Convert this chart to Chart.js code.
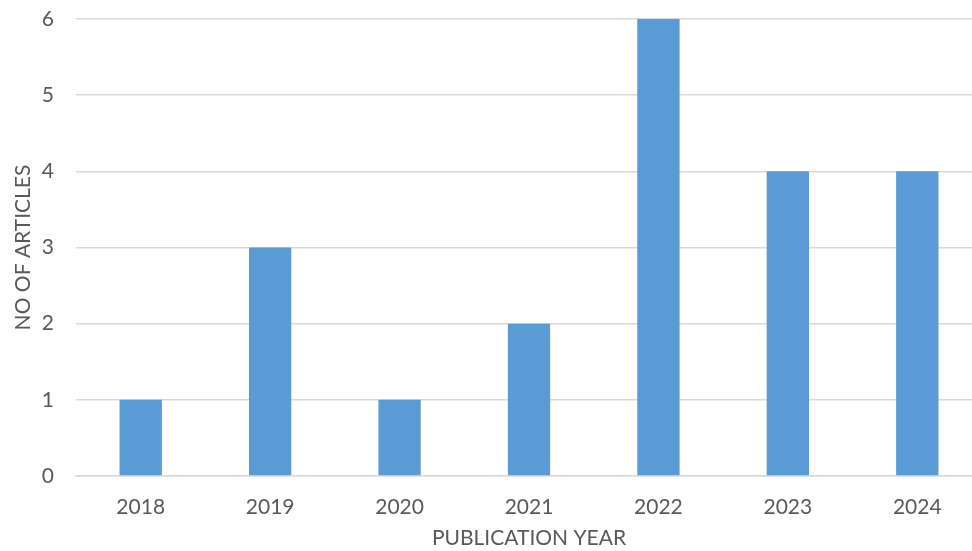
<!DOCTYPE html>
<html>
<head>
<meta charset="utf-8">
<script src="https://cdn.jsdelivr.net/npm/chart.js@4"></script>
<style>
  html, body { margin: 0; padding: 0; background: #fff; overflow: hidden; }
  #wrap { width: 982px; height: 551px; }
</style>
</head>
<body>
<div id="wrap"><canvas id="chart"></canvas></div>
<script>
// DATA
const years = ['2018', '2019', '2020', '2021', '2022', '2023', '2024'];
const articleCounts = [1, 3, 1, 2, 6, 4, 4];
const yTicks = [0, 1, 2, 3, 4, 5, 6];

const textColor = '#595959';
const gridColor = '#d9d9d9';
const fontFamily = 'Lato, "Open Sans", sans-serif';

const ctx = document.getElementById('chart').getContext('2d');
const chart = new Chart(ctx, {
    type: 'bar',
    data: {
        labels: years,
        datasets: [{
            label: 'NO OF ARTICLES',
            data: articleCounts,
            backgroundColor: '#5b9bd5',
            borderWidth: 0,
            barPercentage: 0.327,
            categoryPercentage: 1
        }]
    },
    options: {
        responsive: true,
        maintainAspectRatio: false,
        animation: false,
        layout: { padding: { top: 19, left: 0, right: 0, bottom: 0 } },
        plugins: {
            legend: { display: false },
            tooltip: { enabled: false }
        },
        scales: {
            x: {
                grid: { display: false, drawTicks: false },
                border: { display: true, color: gridColor, width: 1.5 },
                ticks: { color: textColor, font: { family: fontFamily, size: 21 }, padding: 19 },
                title: { display: true, text: 'PUBLICATION YEAR', color: textColor, font: { family: fontFamily, size: 21 }, padding: { top: 13, bottom: 0 } },
                afterFit: (scale) => { scale.height = 75; }
            },
            y: {
                min: 0,
                max: 6,
                afterBuildTicks: (scale) => { scale.ticks = yTicks.map(v => ({ value: v })); },
                grid: { color: gridColor, lineWidth: 1.5, drawTicks: false },
                border: { display: false },
                ticks: { color: textColor, font: { family: fontFamily, size: 21 }, padding: 22 },
                title: { display: true, text: 'NO OF ARTICLES', color: textColor, font: { family: fontFamily, size: 21 }, padding: { top: 11, bottom: 4 } },
                afterFit: (scale) => {
                    scale.width = 76;
                    // tick padding would otherwise push the plot area down
                    scale.paddingTop = 0;
                    scale.paddingBottom = 0;
                }
            }
        }
    }
});
</script>
</body>
</html>
